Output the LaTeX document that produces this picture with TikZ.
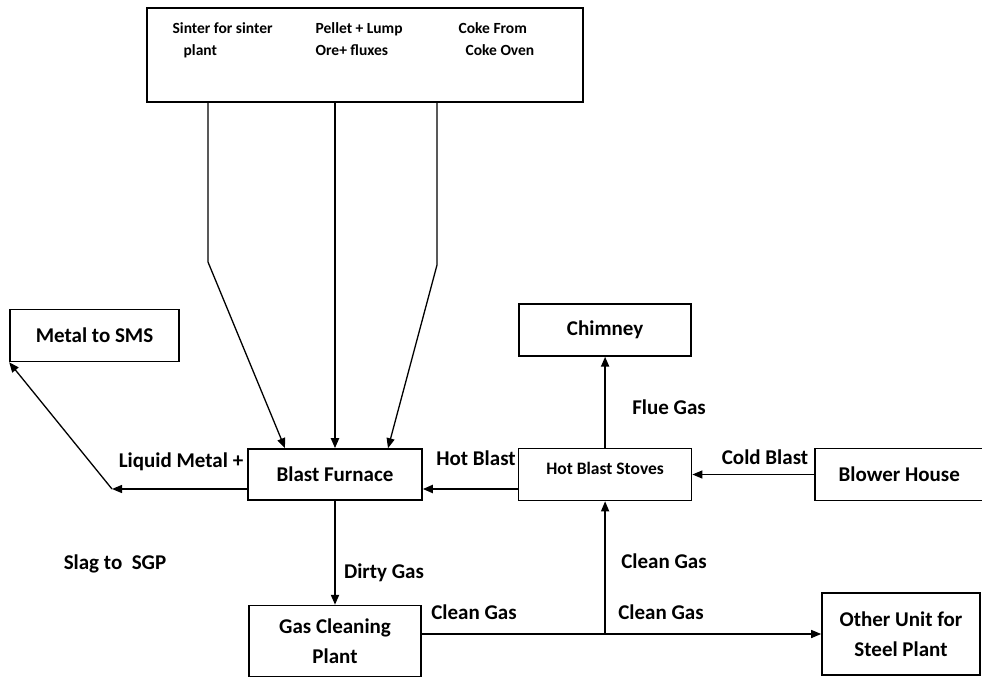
\documentclass[tikz,border=0pt]{standalone}
\usepackage{fontspec}
\setmainfont{Carlito}
\usetikzlibrary{arrows.meta,positioning}

\begin{document}
\begin{tikzpicture}[x=1pt,y=-1pt,line width=1.3pt,
                    font=\bfseries\fontsize{21}{30}\selectfont,
                    unit/.style={draw,line width=1.6pt,align=center,inner sep=0pt},
                    feedtext/.style={align=left,anchor=north west,inner sep=0pt,
                                     font=\bfseries\fontsize{15.5}{22}\selectfont},
                    lbl/.style={inner sep=0pt,text height=13pt,text depth=0pt},
                    flow/.style={-{Triangle[length=10pt,width=8pt]}},
                    main/.style={flow,line width=2pt}]
  \useasboundingbox (0,0) rectangle (982,679);
  % charge materials
  \node[unit,minimum width=436pt,minimum height=94pt] (feed) at (365,55) {};
  \node[feedtext] (sinter) at (172,22) {Sinter for sinter\\\hspace*{11pt}plant};
  \node[feedtext] (pellet) at (315,22) {Pellet + Lump\\Ore+ fluxes};
  \node[feedtext] (coke) at (458,22) {Coke From\\\hspace*{7pt}Coke Oven};
  % furnace row
  \node[unit,minimum width=174pt,minimum height=51pt] (bf) at (335,474.5) {Blast Furnace};
  % the stoves text sits high in its box: the extra depth lifts it
  \node[unit,minimum width=173pt,minimum height=52pt,text depth=12pt,
        font=\bfseries\fontsize{17.5}{20}\selectfont,
        right=95pt of bf] (stoves) {Hot Blast Stoves};
  \node[unit,minimum width=172pt,minimum height=52pt,above=91pt of stoves] (chimney) {Chimney};
  \node[unit,minimum width=168pt,minimum height=52pt,right=122pt of stoves] (blower) {Blower House};
  \node[unit,minimum width=169pt,minimum height=52pt] (sms) at (94.5,335.5) {Metal to SMS};
  \node[unit,minimum width=172pt,minimum height=71pt,below=104pt of bf] (gcp) {Gas Cleaning\\Plant};
  \node[unit,minimum width=158pt,minimum height=82pt] (other) at (901,634) {Other Unit for\\Steel Plant};
  % burden down into the furnace
  \coordinate (sinterkink) at (208,262);
  \coordinate (cokekink) at (437,265);
  \draw[flow] (feed.south -| sinterkink) -- (sinterkink) -- ([xshift=-50pt]bf.north);
  \draw[main] (feed.south -| bf.north) -- (bf.north);
  \draw[flow] (feed.south -| cokekink) -- (cokekink) -- ([xshift=53pt]bf.north);
  % products and gas
  \coordinate (tapping) at (112,489);
  \draw[flow] (bf.west |- tapping) -- (tapping);
  \draw[flow] (tapping) -- (sms.south west);
  \draw[main] (stoves.west |- tapping) -- (bf.east |- tapping);
  \draw[flow] (blower.west) -- (blower.west -| stoves.east);
  \draw[main] (stoves.north) -- (chimney.south);
  \draw[main] (bf.south) -- (gcp.north);
  \draw[flow] (gcp.east |- other.west) -- (other.west);
  \draw[flow] (stoves.south |- other.west) -- (stoves.south);
  \node[lbl] (liquid) at (181,461) {Liquid Metal +};
  \node[lbl] (slag) at (115,563) {Slag to\ \ SGP};
  \node[lbl] (hotblast) at (476,459) {Hot Blast};
  \node[lbl] (coldblast) at (765,458) {Cold Blast};
  \node[lbl] (fluegas) at (669,408) {Flue Gas};
  \node[lbl] (dirtygas) at (384,572) {Dirty Gas};
  \node[lbl] (cleanout) at (474,613) {Clean Gas};
  \node[lbl] (cleanup) at (664,562) {Clean Gas};
  \node[lbl] (cleanon) at (661,613) {Clean Gas};
\end{tikzpicture}
\end{document}
